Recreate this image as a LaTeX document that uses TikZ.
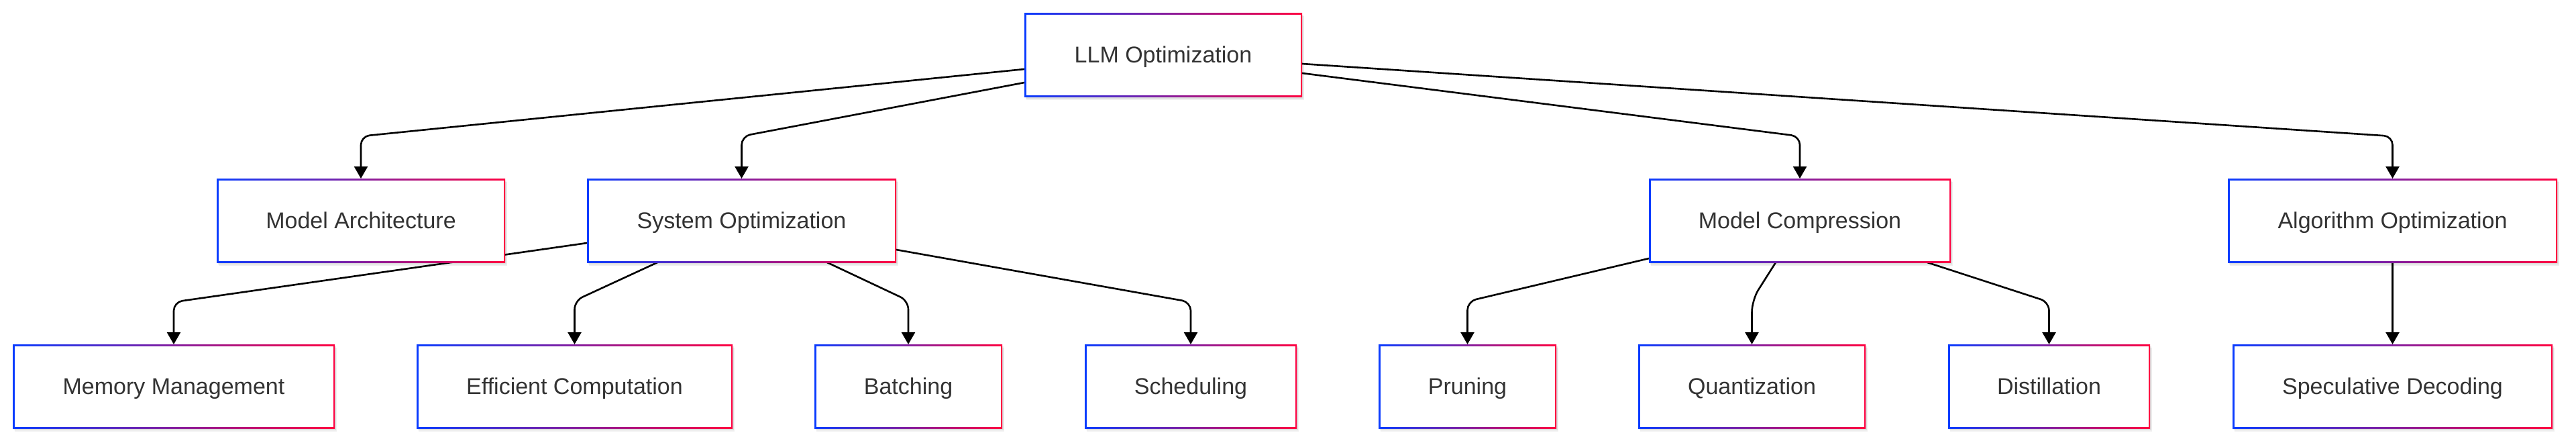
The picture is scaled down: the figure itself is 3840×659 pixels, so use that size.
\documentclass[tikz,border=0pt]{standalone}
\usepackage{fontspec}
\setmainfont{Liberation Sans}
\usetikzlibrary{arrows.meta,shadows,backgrounds,calc}
\definecolor{cblue}{RGB}{10,60,255}
\definecolor{cred}{RGB}{255,0,64}
\definecolor{txt}{RGB}{51,51,51}
\tikzset{
  box/.style={rectangle, minimum height=125pt, inner sep=0pt, outer sep=0pt,
    left color=cblue, right color=cred, text=txt,
    font=\fontsize{34}{40}\selectfont, text height=31.3pt, text depth=7pt,
    path picture={\fill[white] ([shift={(2.5pt,2.5pt)}]path picture bounding box.south west) rectangle ([shift={(-2.5pt,-2.5pt)}]path picture bounding box.north east);},
    general shadow={shadow xshift=3pt, shadow yshift=-5pt, fill=black, opacity=0.06},
    general shadow={shadow xshift=1.5pt, shadow yshift=-2.5pt, fill=black, opacity=0.08}},
  edge/.style={draw=black, line width=2.6pt, rounded corners=13pt,
    -{Triangle[length=18pt,width=20pt]}}
}
\begin{document}
\begin{tikzpicture}[x=1pt,y=-1pt]
\useasboundingbox (0,0) rectangle (3840,659);
\begin{scope}[on background layer]
\fill[white] (0,0) rectangle (3840,659);
\end{scope}
% level 0
\node[box, minimum width=414pt] (llm) at (1734,81.5) {LLM Optimization};
% level 1
\node[box, minimum width=430pt] (ma) at (538,328.5) {Model Architecture};
\node[box, minimum width=461pt] (so) at (1105.5,328.5) {System Optimization};
\node[box, minimum width=450pt] (mc) at (2683,328.5) {Model Compression};
\node[box, minimum width=491pt] (ao) at (3566.5,328.5) {Algorithm Optimization};
% level 2
\node[box, minimum width=480pt] (mm) at (259,575.5) {Memory Management};
\node[box, minimum width=471pt] (ec) at (856.5,575.5) {Efficient Computation};
\node[box, minimum width=280pt] (ba) at (1354,575.5) {Batching};
\node[box, minimum width=316pt] (sc) at (1775,575.5) {Scheduling};
\node[box, minimum width=265pt] (pr) at (2187.5,575.5) {Pruning};
\node[box, minimum width=339pt] (qu) at (2611.5,575.5) {Quantization};
\node[box, minimum width=301pt] (di) at (3054.5,575.5) {Distillation};
\node[box, minimum width=477pt] (sd) at (3566.5,575.5) {Speculative Decoding};
\begin{scope}[on background layer]
\draw[edge] ([yshift=-21.5pt]llm.west) -- (ma.north |- 0,203) -- (ma.north);
\draw[edge] ([yshift=-41.5pt]llm.west) -- (so.north |- 0,203) -- (so.north);
\draw[edge] ([yshift=-27.5pt]llm.east) -- (mc.north |- 0,203) -- (mc.north);
\draw[edge] ([yshift=-13.5pt]llm.east) -- (ao.north |- 0,203) -- (ao.north);
\draw[edge] ([yshift=-33.5pt]so.west) -- (mm.north |- 0,450) -- (mm.north);
\draw[edge] ([xshift=-125.5pt]so.south) -- (ec.north |- 0,448) -- (ec.north);
\draw[edge] ([xshift=127.5pt]so.south) -- (ba.north |- 0,448) -- (ba.north);
\draw[edge] ([yshift=-43.5pt]so.east) -- (sc.north |- 0,450) -- (sc.north);
\draw[edge] ([yshift=-56.5pt]mc.west) -- (pr.north |- 0,449) -- (pr.north);
\draw[edge, rounded corners=18pt] ([xshift=-36pt]mc.south) -- (qu.north |- 0,447) -- (qu.north);
\draw[edge] ([xshift=190pt]mc.south) -- (di.north |- 0,450) -- (di.north);
\draw[edge] (ao.south) -- (sd.north);
\end{scope}
\end{tikzpicture}
\end{document}
